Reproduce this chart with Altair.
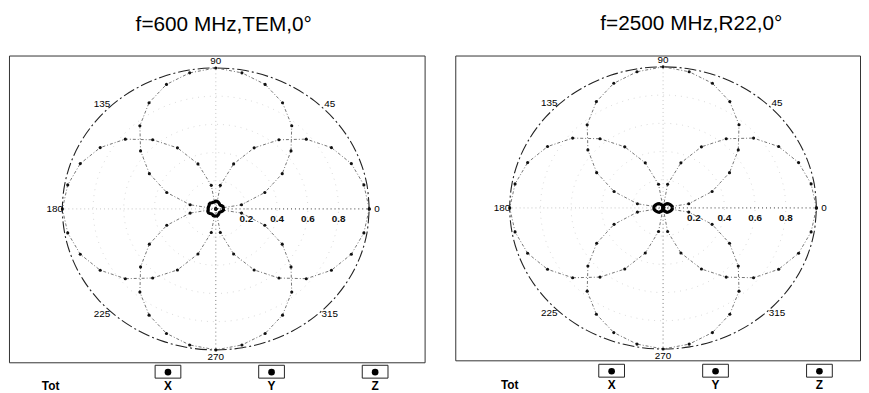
import altair as alt
import pandas as pd

# ---- data (angles in degrees, every 10 degrees) ----
angles = [0, 10, 20, 30, 40, 50, 60, 70, 80, 90, 100, 110, 120, 130, 140, 150, 160, 170,
          180, 190, 200, 210, 220, 230, 240, 250, 260, 270, 280, 290, 300, 310, 320, 330,
          340, 350, 360]

left_tot = [1.00] * 37
left_x = [1.00, 0.98, 0.94, 0.87, 0.77, 0.64, 0.50, 0.34, 0.17, 0.00, 0.17, 0.34, 0.50, 0.64,
          0.77, 0.87, 0.94, 0.98, 1.00, 0.98, 0.94, 0.87, 0.77, 0.64, 0.50, 0.34, 0.17, 0.00,
          0.17, 0.34, 0.50, 0.64, 0.77, 0.87, 0.94, 0.98, 1.00]
left_y = [0.00, 0.17, 0.34, 0.50, 0.64, 0.77, 0.87, 0.94, 0.98, 1.00, 0.98, 0.94, 0.87, 0.77,
          0.64, 0.50, 0.34, 0.17, 0.00, 0.17, 0.34, 0.50, 0.64, 0.77, 0.87, 0.94, 0.98, 1.00,
          0.98, 0.94, 0.87, 0.77, 0.64, 0.50, 0.34, 0.17, 0.00]
left_z = [0.05, 0.05, 0.05, 0.045, 0.04, 0.04, 0.045, 0.05, 0.055, 0.055, 0.05, 0.05, 0.05,
          0.055, 0.055, 0.05, 0.05, 0.05, 0.05, 0.05, 0.055, 0.055, 0.05, 0.045, 0.045, 0.05,
          0.05, 0.05, 0.05, 0.045, 0.04, 0.035, 0.035, 0.04, 0.045, 0.05, 0.05]

right_tot = [1.00] * 37
right_x = [1.00, 0.98, 0.94, 0.87, 0.77, 0.64, 0.50, 0.34, 0.17, 0.00, 0.17, 0.34, 0.50, 0.64,
           0.77, 0.87, 0.94, 0.98, 1.00, 0.98, 0.94, 0.87, 0.77, 0.64, 0.50, 0.34, 0.17, 0.00,
           0.17, 0.34, 0.50, 0.64, 0.77, 0.87, 0.94, 0.98, 1.00]
right_y = [0.00, 0.17, 0.34, 0.50, 0.64, 0.77, 0.87, 0.94, 0.98, 1.00, 0.98, 0.94, 0.87, 0.77,
           0.64, 0.50, 0.34, 0.17, 0.00, 0.17, 0.34, 0.50, 0.64, 0.77, 0.87, 0.94, 0.98, 1.00,
           0.98, 0.94, 0.87, 0.77, 0.64, 0.50, 0.34, 0.17, 0.00]
right_z = [0.06, 0.06, 0.055, 0.05, 0.045, 0.04, 0.03, 0.02, 0.01, 0.0, 0.01, 0.02,
           0.03, 0.04, 0.045, 0.05, 0.055, 0.06, 0.06, 0.06, 0.055, 0.05, 0.045, 0.04,
           0.03, 0.02, 0.01, 0.0, 0.01, 0.02, 0.03, 0.04, 0.045, 0.05, 0.055, 0.06, 0.06]

angle_labels = [0, 45, 90, 135, 180, 225, 270, 315]
radial_labels = [0.2, 0.4, 0.6, 0.8]
grid_radii = [0.2, 0.4, 0.6, 0.8]
grid_angles = list(range(0, 361, 3))
spoke_angles = [0, 90, 180, 270]
legend_items = ["Tot", "X", "Y", "Z"]

titles = ["f=600 MHz,TEM,0°", "f=2500 MHz,R22,0°"]

FONT = "Liberation Sans"
CALC = dict(px="datum.r*cos(datum.angle*PI/180)", py="datum.r*sin(datum.angle*PI/180)")


def long_df(series):
    rows = []
    for name, vals in series.items():
        for i, (a, v) in enumerate(zip(angles, vals)):
            rows.append({"series": name, "idx": i, "angle": a, "r": v})
    return pd.DataFrame(rows)


def panel(tot, xs, ys, zs, title, xdom, ydom, width, height, dx, leg_range, tot_dx):
    xenc = alt.X("px:Q", scale=alt.Scale(domain=xdom, nice=False, zero=False), axis=None)
    yenc = alt.Y("py:Q", scale=alt.Scale(domain=ydom, nice=False, zero=False), axis=None)

    grid_df = pd.DataFrame([{"ring": r, "idx": i, "angle": a, "r": r}
                            for r in grid_radii for i, a in enumerate(grid_angles)])
    grid = alt.Chart(grid_df).transform_calculate(**CALC).mark_line(
        color="#d0d0d0", strokeWidth=0.8, strokeDash=[1, 5]
    ).encode(x=xenc, y=yenc, detail="ring:N", order="idx:Q")

    spoke_df = pd.DataFrame([{"spoke": a, "angle": a, "r": r, "idx": k}
                             for a in spoke_angles for k, r in enumerate([0, 1])])
    spokes = alt.Chart(spoke_df).transform_calculate(**CALC).mark_line(
        strokeWidth=1, strokeDash=[1, 3]
    ).encode(
        x=xenc, y=yenc, detail="spoke:N", order="idx:Q",
        color=alt.Color("spoke:N", scale=alt.Scale(domain=spoke_angles,
                                                   range=["#333", "#c4c4c4", "#c4c4c4", "#777"]),
                        legend=None),
    )

    df = long_df({"Tot": tot, "X": xs, "Y": ys, "Z": zs})
    base = alt.Chart(df).transform_calculate(**CALC)

    tot_line = base.transform_filter("datum.series=='Tot'").mark_line(
        color="#222", strokeWidth=1.1, strokeDash=[12, 3, 2, 3], interpolate="cardinal"
    ).encode(x=xenc, y=yenc, order="idx:Q")

    xy_line = base.transform_filter("datum.series=='X' || datum.series=='Y'").mark_line(
        color="#666", strokeWidth=0.9, strokeDash=[3, 2, 1, 2]
    ).encode(x=xenc, y=yenc, detail="series:N", order="idx:Q")

    xy_pts = base.transform_filter("datum.series=='X' || datum.series=='Y'").mark_point(
        filled=True, color="#111", size=10, opacity=1
    ).encode(x=xenc, y=yenc)

    z_line = base.transform_filter("datum.series=='Z'").mark_line(
        color="#000", strokeWidth=3.2
    ).encode(x=xenc, y=yenc, order="idx:Q")

    alab_df = pd.DataFrame({"angle": angle_labels, "label": [str(a) for a in angle_labels],
                            "r": [1.05] * len(angle_labels)})
    alab = alt.Chart(alab_df).transform_calculate(**CALC).mark_text(
        font=FONT, fontSize=10, color="#000", align="center", baseline="middle"
    ).encode(x=xenc, y=yenc, text="label:N")

    rlab_df = pd.DataFrame({"angle": [0] * len(radial_labels), "r": radial_labels,
                            "label": [f"{v:.1f}" for v in radial_labels]})
    rlab = alt.Chart(rlab_df).transform_calculate(**CALC).mark_text(
        font=FONT, fontSize=10, fontWeight="bold", color="#111", dy=10, baseline="middle"
    ).encode(x=xenc, y=yenc, text="label:N")

    polar = alt.layer(grid, spokes, tot_line, xy_line, xy_pts, z_line, alab, rlab).properties(
        width=width, height=height,
        title=alt.TitleParams(title, font=FONT, fontSize=21, fontWeight="normal",
                              color="#000", offset=21, dx=dx),
        view=alt.ViewBackground(stroke="#333", strokeWidth=1),
    )

    leg_df = pd.DataFrame({"item": legend_items})
    lx = alt.X("item:N", scale=alt.Scale(domain=legend_items, range=leg_range, padding=0),
               axis=None)
    boxes = alt.Chart(leg_df).transform_filter("datum.item != 'Tot'").mark_point(
        shape="M-1,-0.5L1,-0.5L1,0.5L-1,0.5Z", size=676, filled=False,
        color="#222", strokeWidth=1, opacity=1
    ).encode(x=lx, y=alt.value(6.5))
    dots = alt.Chart(leg_df).transform_filter("datum.item != 'Tot'").mark_point(
        shape="circle", size=45, filled=True, color="#000", opacity=1
    ).encode(x=lx, y=alt.value(7))
    labels = alt.Chart(leg_df).transform_filter("datum.item != 'Tot'").mark_text(
        font=FONT, fontSize=12, fontWeight="bold", color="#000", baseline="middle"
    ).encode(x=lx, y=alt.value(21), text="item:N")
    tot_label = alt.Chart(leg_df).transform_filter("datum.item == 'Tot'").mark_text(
        font=FONT, fontSize=12, fontWeight="bold", color="#000", baseline="middle", dx=tot_dx
    ).encode(x=lx, y=alt.value(21), text="item:N")
    legend = alt.layer(boxes, dots, labels, tot_label).properties(
        width=width, height=26, view=alt.ViewBackground(strokeWidth=0)
    )
    return alt.vconcat(polar, legend, spacing=0)


left = panel(left_tot, left_x, left_y, left_z, titles[0],
             [-1.348, 1.361], [-1.088, 1.088], 420, 310, 7, [56, 370], -14)
right = panel(right_tot, right_x, right_y, right_z, titles[1],
              [-1.355, 1.284], [-1.08, 1.08], 409, 308, 34, [53, 368], 2)

chart = alt.hconcat(left, right, spacing=29).properties(
    padding={"left": 0, "top": 2, "right": 0, "bottom": 0}, background="white"
).configure_view(stroke="transparent")

chart.save("out.html", embed_options={"renderer": "svg", "actions": False})
